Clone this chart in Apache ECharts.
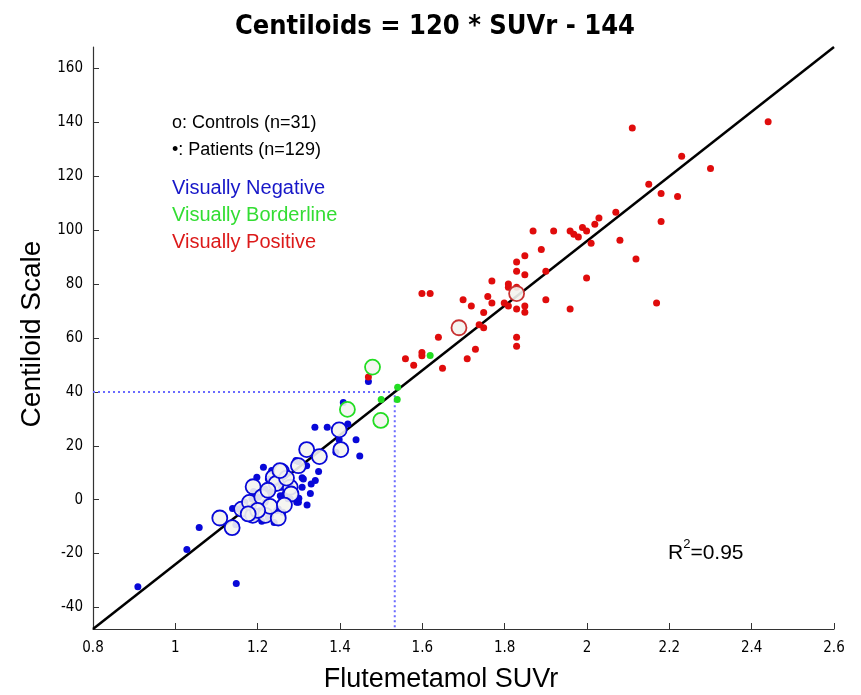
<!DOCTYPE html>
<html>
<head>
<meta charset="utf-8">
<script src="https://cdn.jsdelivr.net/npm/echarts@6/dist/echarts.min.js"></script>
<style>
  html, body { margin: 0; padding: 0; background: #fff; }
  #chart { width: 861px; height: 695px; }
</style>
</head>
<body>
<div id="chart"></div>
<script>
// tick labels
const xTicks = [0.8, 1, 1.2, 1.4, 1.6, 1.8, 2, 2.2, 2.4, 2.6]
const yTicks = [-40, -20, 0, 20, 40, 60, 80, 100, 120, 140, 160]

// fit line: Centiloids = 120 * SUVr - 144
const fitLine = [[0.8, -48], [2.6, 168]]
// cut-off at 40 CL
const cutoffLine = [[0.8, 40], [1.533, 40], [1.533, -48]]

// visually negative, patients
const negPatients = [
  [0.909, -32.3], [1.148, -31.1], [1.028, -18.5], [1.058, -10.3], [1.147, -9.3],
  [1.139, -3.3], [1.164, -1.9], [1.177, -5.6], [1.198, 8.3], [1.250, -3.5],
  [1.261, -4.7], [1.279, 0.3], [1.299, -1.0], [1.308, 8.1], [1.308, 4.6],
  [1.328, 2.3], [1.330, 5.8], [1.340, 7.1], [1.348, 10.5], [1.299, 14.2],
  [1.319, 12.6], [1.390, 17.6], [1.439, 22.2], [1.448, 16.2], [1.339, 26.9],
  [1.369, 26.9], [1.408, 36.1], [1.419, 28.1], [1.398, 22.2], [1.469, 43.9],
  [1.293, 14.5], [1.311, 7.7], [1.226, 7.7], [1.242, 6.4], [1.258, 4.6],
  [1.218, 4.0], [1.234, 2.7], [1.266, 2.1], [1.202, 0.9], [1.218, -1.0],
  [1.186, 0.3], [1.169, -1.0], [1.181, -3.5], [1.206, -4.1], [1.226, -6.6],
  [1.246, -4.1], [1.274, 0.3], [1.283, 3.3], [1.279, 5.8], [1.250, 10.1],
  [1.266, 10.8], [1.234, 10.8], [1.161, -5.3], [1.153, -3.5], [1.194, -6.6],
  [1.295, -1.0], [1.210, -8.0], [1.240, -8.5], [1.300, 0.5], [1.320, -2.0],
  [1.214, 12.0], [1.255, 1.5], [1.190, 3.0]
]
// visually negative, controls
const negControls = [
  [1.108, -6.8], [1.138, -10.4], [1.161, -3.5], [1.188, -5.8], [1.219, -5.8],
  [1.250, -6.8], [1.189, 4.8], [1.180, -1.0], [1.238, 8.3], [1.258, 10.5],
  [1.279, 4.6], [1.281, 2.1], [1.299, 12.6], [1.319, 18.6], [1.350, 16.0],
  [1.398, 25.9], [1.402, 18.6], [1.210, 1.0], [1.230, -2.5], [1.265, -2.0],
  [1.200, -4.0], [1.245, 6.0], [1.270, 8.0], [1.225, 3.5], [1.254, 10.8],
  [1.177, -5.3]
]

// visually borderline
const borderPatients = [[1.540, 41.7], [1.500, 37.2], [1.539, 37.2], [1.619, 53.5]]
const borderControls = [[1.479, 49.2], [1.418, 33.5], [1.499, 29.4]]

// visually positive
const posPatients = [
  [2.110, 137.9], [2.440, 140.3], [2.230, 127.5], [2.300, 122.9], [2.150, 117.1],
  [2.180, 113.6], [2.220, 112.5], [2.180, 103.2], [2.070, 106.7], [2.029, 104.5],
  [2.019, 102.2], [1.989, 101.0], [1.999, 99.7], [1.959, 99.7], [1.968, 98.5],
  [1.979, 97.5], [2.010, 95.2], [1.869, 99.7], [1.919, 99.7], [2.080, 96.3],
  [1.889, 92.8], [1.849, 90.5], [1.829, 88.2], [1.829, 84.8], [1.849, 83.5],
  [1.900, 84.8], [2.119, 89.3], [1.999, 82.3], [1.769, 81.2], [1.809, 80.0],
  [1.809, 78.8], [1.829, 78.8], [1.759, 75.4], [1.699, 74.2], [1.719, 71.9],
  [1.769, 73.0], [1.799, 73.0], [1.809, 71.9], [1.829, 70.8], [1.849, 71.9],
  [1.849, 69.6], [1.900, 74.2], [1.959, 70.8], [2.169, 73.0], [1.749, 69.5],
  [1.599, 76.5], [1.619, 76.5], [1.738, 64.9], [1.749, 63.8], [1.639, 60.3],
  [1.829, 60.3], [1.829, 56.9], [1.729, 55.8], [1.599, 54.6], [1.599, 53.4],
  [1.559, 52.3], [1.579, 49.9], [1.709, 52.3], [1.649, 48.8], [1.469, 45.5]
]
const posControls = [[1.689, 63.8], [1.829, 76.5]]

const BLUE = '#0808d8'
const GREEN = '#22dd22'
const RED = '#e00c0c'
const narrow = "'Liberation Sans Narrow', 'DejaVu Sans Condensed', sans-serif"
const sans = "'Liberation Sans', Arial, sans-serif"

const dots = (data, color) => ({
  type: 'scatter',
  data,
  symbol: 'circle',
  symbolSize: 7,
  itemStyle: { color, opacity: 1 },
  z: 3
})
const rings = (data, color) => ({
  type: 'scatter',
  data,
  symbol: 'circle',
  symbolSize: 15,
  itemStyle: { color: 'rgba(244,244,240,0.9)', borderColor: color, borderWidth: 1.8, opacity: 1 },
  z: 4
})

const chart = echarts.init(document.getElementById('chart'))

chart.setOption({
  animation: false,
  title: {
    text: 'Centiloids = 120 * SUVr - 144',
    left: 430,
    top: 8,
    textAlign: 'center',
    textStyle: { fontFamily: narrow, fontWeight: 'bold', fontSize: 27, color: '#000' }
  },
  grid: { left: 93, right: 27, top: 47, bottom: 66 },
  xAxis: {
    type: 'value',
    min: 0.8,
    max: 2.6,
    interval: 0.2,
    splitLine: { show: false },
    axisLine: { onZero: false, lineStyle: { color: '#333', width: 1.2 } },
    axisTick: { inside: true, length: 6, lineStyle: { color: '#333' }, customValues: xTicks },
    axisLabel: {
      customValues: xTicks,
      color: '#000',
      fontFamily: narrow,
      fontSize: 15,
      margin: 12,
      formatter: v => String(Math.round(v * 10) / 10)
    }
  },
  yAxis: {
    type: 'value',
    min: -48,
    max: 168,
    splitLine: { show: false },
    axisLine: { show: true, onZero: false, lineStyle: { color: '#333', width: 1.2 } },
    axisTick: { show: true, inside: true, length: 6, lineStyle: { color: '#333' }, customValues: yTicks },
    axisLabel: { customValues: yTicks, color: '#000', fontFamily: narrow, fontSize: 15, margin: 10 }
  },
  graphic: [
    {
      type: 'text', x: 441, y: 680,
      style: { text: 'Flutemetamol SUVr', font: "27px 'Liberation Sans', Arial, sans-serif", fill: '#000', align: 'center', verticalAlign: 'middle' }
    },
    {
      type: 'text', x: 32, y: 334, rotation: Math.PI / 2,
      style: { text: 'Centiloid Scale', font: "28px 'Liberation Sans', Arial, sans-serif", fill: '#000', align: 'center', verticalAlign: 'middle' }
    },
    { type: 'text', left: 172, top: 114, style: { text: 'o: Controls (n=31)', font: "18px " + sans, fill: '#000' } },
    { type: 'text', left: 172, top: 141, style: { text: '\u2022: Patients (n=129)', font: "18px " + sans, fill: '#000' } },
    { type: 'text', left: 172, top: 178, style: { text: 'Visually Negative', font: "20px " + sans, fill: '#1717c8' } },
    { type: 'text', left: 172, top: 205, style: { text: 'Visually Borderline', font: "20px " + sans, fill: '#33dd33' } },
    { type: 'text', left: 172, top: 232, style: { text: 'Visually Positive', font: "20px " + sans, fill: '#dc1a1a' } },
    {
      type: 'text', left: 668, top: 538,
      style: {
        text: '{a|R}{s|2}{a|=0.95}',
        rich: {
          a: { fontFamily: sans, fontSize: 21, fill: '#000', verticalAlign: 'bottom', lineHeight: 26 },
          s: { fontFamily: sans, fontSize: 13, fill: '#000', verticalAlign: 'top', lineHeight: 26, padding: [0, 0, 10, 0] }
        }
      }
    }
  ],
  series: [
    {
      type: 'line',
      data: fitLine,
      symbol: 'none',
      lineStyle: { color: '#000', width: 2.5 },
      z: 2
    },
    {
      type: 'line',
      data: cutoffLine,
      symbol: 'none',
      lineStyle: { color: '#6a6aff', width: 2, type: [2, 3] },
      z: 1
    },
    dots(negPatients, BLUE),
    dots(borderPatients, GREEN),
    dots(posPatients, RED),
    rings(negControls, BLUE),
    rings(borderControls, GREEN),
    rings(posControls, '#c83232')
  ]
})
</script>
</body>
</html>
